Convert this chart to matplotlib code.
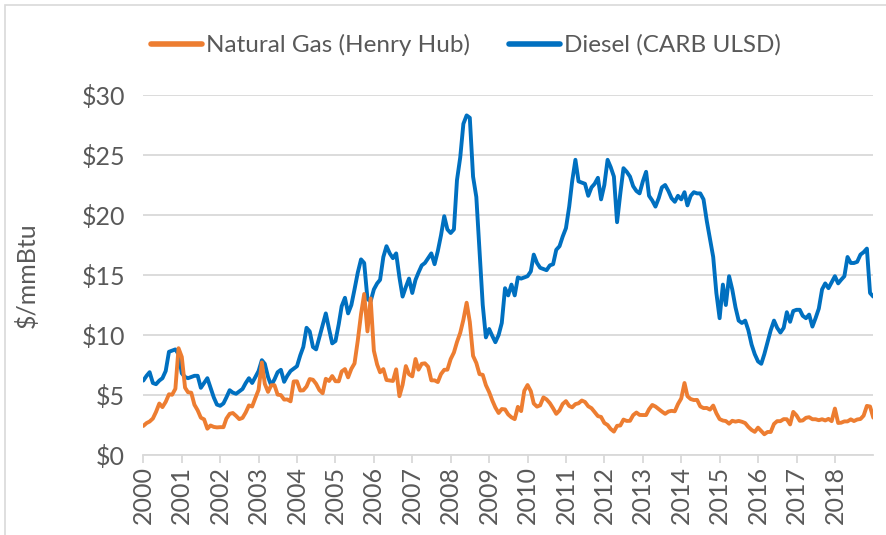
import numpy as np
import pandas as pd
import matplotlib
matplotlib.use('Agg')
import matplotlib.pyplot as plt
import matplotlib.dates as mdates
from matplotlib.patches import Rectangle
from matplotlib.ticker import FuncFormatter
from matplotlib import rcParams
rcParams['font.family'] = ['Lato', 'DejaVu Sans']
rcParams['font.size'] = 18

# monthly prices, $/mmBtu, Jan 2000 .. Jan 2019
gas = [2.42, 2.66, 2.79, 3.04, 3.59, 4.29, 3.99, 4.43, 5.06, 5.02, 5.52, 8.90,
       8.17, 5.61, 5.23, 5.19, 4.19, 3.72, 3.11, 2.97, 2.19, 2.46, 2.34, 2.30,
       2.32, 2.32, 3.03, 3.43, 3.50, 3.26, 2.99, 3.09, 3.55, 4.13, 4.04, 4.74,
       5.43, 7.71, 5.93, 5.26, 5.81, 5.82, 5.03, 4.99, 4.62, 4.63, 4.47, 6.13,
       6.14, 5.37, 5.39, 5.71, 6.33, 6.27, 5.93, 5.41, 5.15, 6.35, 6.17, 6.58,
       6.15, 6.14, 6.96, 7.16, 6.47, 7.18, 7.63, 9.53, 11.75, 13.42, 10.30, 13.05,
       8.69, 7.54, 6.89, 7.16, 6.25, 6.21, 6.17, 7.14, 4.90, 5.85, 7.41, 6.73,
       6.55, 8.00, 7.11, 7.60, 7.64, 7.35, 6.22, 6.22, 6.08, 6.74, 7.10, 7.11,
       7.99, 8.54, 9.41, 10.18, 11.27, 12.69, 11.09, 8.26, 7.67, 6.74, 6.68, 5.82,
       5.24, 4.52, 3.96, 3.50, 3.83, 3.80, 3.38, 3.14, 2.99, 4.01, 3.66, 5.35,
       5.83, 5.32, 4.29, 4.03, 4.14, 4.80, 4.63, 4.32, 3.89, 3.43, 3.71, 4.25,
       4.49, 4.09, 3.97, 4.24, 4.31, 4.54, 4.42, 4.06, 3.90, 3.57, 3.24, 3.17,
       2.67, 2.50, 2.17, 1.95, 2.43, 2.46, 2.95, 2.84, 2.85, 3.32, 3.54, 3.34,
       3.33, 3.33, 3.81, 4.17, 4.04, 3.83, 3.62, 3.43, 3.62, 3.68, 3.64, 4.24,
       4.71, 6.00, 4.90, 4.66, 4.58, 4.59, 4.05, 3.91, 3.92, 3.78, 4.12, 3.48,
       2.99, 2.87, 2.83, 2.61, 2.85, 2.78, 2.84, 2.77, 2.66, 2.34, 2.09, 1.93,
       2.28, 1.99, 1.73, 1.92, 1.92, 2.59, 2.82, 2.82, 2.99, 2.98, 2.55, 3.59,
       3.30, 2.85, 2.88, 3.10, 3.15, 2.98, 2.98, 2.90, 2.98, 2.88, 3.01, 2.82,
       3.87, 2.67, 2.69, 2.80, 2.80, 2.97, 2.83, 2.96, 3.00, 3.28, 4.09, 4.04,
       3.11]

diesel = [6.2, 6.6, 6.9, 6.0, 5.9, 6.2, 6.4, 7.0, 8.6, 8.7, 8.8, 8.4,
          6.8, 6.5, 6.4, 6.5, 6.6, 6.6, 5.6, 6.0, 6.4, 5.6, 4.8, 4.2,
          4.1, 4.3, 4.8, 5.4, 5.2, 5.1, 5.3, 5.5, 6.0, 6.4, 6.0, 6.5,
          7.0, 7.9, 7.6, 6.5, 5.8, 6.3, 6.9, 7.1, 6.1, 6.6, 7.0, 7.2,
          7.4, 8.3, 9.0, 10.6, 10.3, 9.0, 8.8, 9.8, 10.8, 11.8, 10.5, 9.3,
          9.5, 10.9, 12.4, 13.1, 11.8, 12.5, 13.8, 15.2, 16.3, 16.0, 13.0, 12.8,
          13.8, 14.3, 14.6, 16.5, 17.4, 16.8, 16.4, 16.8, 14.8, 13.2, 14.0, 14.7,
          13.5, 14.6, 15.2, 15.8, 16.0, 16.4, 16.8, 15.9, 17.0, 18.3, 19.9, 18.8,
          18.5, 18.8, 22.9, 24.8, 27.6, 28.3, 28.1, 23.2, 21.5, 17.0, 12.5, 9.8,
          10.5, 9.9, 9.4, 10.0, 11.0, 13.9, 13.3, 14.2, 13.3, 14.8, 14.7, 14.8,
          14.9, 15.3, 16.7, 16.0, 15.6, 15.5, 15.4, 15.8, 15.9, 17.1, 17.4, 18.2,
          18.9, 20.7, 22.8, 24.6, 22.8, 22.7, 22.6, 21.6, 22.3, 22.6, 23.1, 21.3,
          22.5, 24.6, 24.0, 23.2, 19.4, 21.8, 23.9, 23.6, 23.2, 22.4, 22.0, 21.8,
          22.8, 23.6, 21.6, 21.2, 20.7, 21.4, 22.3, 22.5, 22.0, 21.4, 21.1, 21.6,
          21.3, 21.9, 20.8, 21.6, 21.9, 21.8, 21.8, 21.3, 19.5, 18.0, 16.5, 13.5,
          11.4, 14.2, 12.5, 14.9, 13.8, 12.3, 11.2, 11.0, 11.2, 10.4, 9.2, 8.4,
          7.8, 7.6, 8.4, 9.4, 10.4, 11.2, 10.6, 10.2, 10.6, 11.9, 11.1, 12.0,
          12.1, 12.1, 11.6, 11.4, 11.7, 10.7, 11.4, 12.2, 13.8, 14.3, 13.9, 14.4,
          14.9, 14.3, 14.6, 14.9, 16.5, 16.0, 16.0, 16.1, 16.7, 16.9, 17.2, 13.5,
          13.2]

dates = pd.date_range('2000-01-01', periods=len(gas), freq='MS')
years = list(range(2000, 2019))
gray = '#595959'
grid_c = '#d9d9d9'

fig = plt.figure(figsize=(8.87, 5.35), dpi=100)
ax = fig.add_axes([143.3/887, 80/535, 730/887, 360/535])

l_d, = ax.plot(dates, diesel, color='#0070C0', lw=2.8, solid_capstyle='round',
               label='Diesel (CARB ULSD)')
l_g, = ax.plot(dates, gas, color='#ED7D31', lw=2.8, solid_capstyle='round',
               label='Natural Gas (Henry Hub)')

ax.set_ylim(0, 30)
ax.set_xlim(pd.Timestamp('2000-01-01'), pd.Timestamp('2019-01-01'))
ax.set_yticks(range(0, 31, 5))
ax.yaxis.set_major_formatter(FuncFormatter(lambda v, p: f'${v:.0f}'))
ax.set_xticks([pd.Timestamp(f'{y}-01-01') for y in years])
ax.xaxis.set_major_formatter(mdates.DateFormatter('%Y'))
plt.setp(ax.get_xticklabels(), rotation=90)
ax.grid(axis='y', color=grid_c, lw=1.3)
ax.set_axisbelow(True)
for s in ['left', 'right', 'top']:
    ax.spines[s].set_visible(False)
ax.spines['bottom'].set_color(grid_c)
ax.spines['bottom'].set_linewidth(1.3)
ax.tick_params(axis='y', length=0, pad=13, colors=gray)
ax.tick_params(axis='x', length=6, width=1.3, color=grid_c, pad=2, labelcolor=gray)

fig.text(27/887, 1-275/535, '$/mmBtu', rotation=90, ha='center', va='center',
         color=gray)

fig.legend([l_g, l_d], [l_g.get_label(), l_d.get_label()], loc='center',
           bbox_to_anchor=(466/887, 1-45/535), ncol=2, frameon=False,
           handlelength=2.1, handletextpad=0.15, columnspacing=1.6,
           labelcolor=gray, prop={'size': 17.5})
for h in fig.legends[0].legend_handles:
    h.set_linewidth(4)

fig.patches.append(Rectangle((5/887, -0.5), 2, 1.5 - 5/535, fill=False,
                             edgecolor=grid_c, lw=1.2, transform=fig.transFigure))

plt.savefig('out.png', dpi=100)
